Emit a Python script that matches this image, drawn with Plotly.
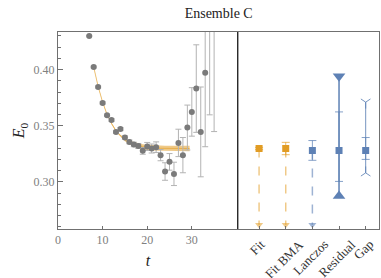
import plotly.graph_objects as go

# ---------------- data ----------------
t_vals = [7, 8, 9, 10, 11, 12, 13, 14, 15, 16, 17, 18, 19, 20, 21, 22, 23, 24, 25, 26,
          27, 28, 29, 30, 31, 32, 33, 34, 35]
e_vals = [0.4299, 0.4023, 0.3845, 0.3703, 0.3593, 0.3551, 0.3445, 0.3470, 0.3395, 0.3356,
          0.3333, 0.3320, 0.3276, 0.3315, 0.3297, 0.3309, 0.3238, 0.3092, 0.3178, 0.3071,
          0.3347, 0.3238, 0.3484, 0.3623, 0.3831, 0.3445, 0.3973, 0.4500, 0.4600]
e_errs = [0.0006, 0.0008, 0.0009, 0.0010, 0.0010, 0.0012, 0.0013, 0.0014, 0.0015, 0.0017,
          0.0020, 0.0022, 0.0030, 0.0036, 0.0040, 0.0047, 0.0050, 0.0078, 0.0074, 0.0104,
          0.0122, 0.0157, 0.0200, 0.0216, 0.0390, 0.0400, 0.0660, 0.0903, 0.1152]

fit_t = [8, 9, 10, 11, 12, 13, 14, 15, 16, 17, 18, 19, 20, 21, 22, 23, 24, 25, 26, 27, 28, 29, 29.5]
fit_center = [0.4023, 0.3850, 0.3710, 0.3600, 0.3520, 0.3455, 0.3410, 0.3375, 0.3350, 0.3335,
              0.3322, 0.3313, 0.3307, 0.3303, 0.3300, 0.3299, 0.3298, 0.3297, 0.3297, 0.3297,
              0.3297, 0.3297, 0.3297]
fit_err = [0.0003, 0.0003, 0.0004, 0.0005, 0.0006, 0.0008, 0.0010, 0.0013, 0.0016, 0.0019,
           0.0021, 0.0023, 0.0024, 0.0024, 0.0024, 0.0024, 0.0024, 0.0024, 0.0024, 0.0024,
           0.0024, 0.0024, 0.0024]

methods = ["Fit", "Fit BMA", "Lanczos", "Residual", "Gap"]
method_vals = [0.3297, 0.3297, 0.3280, 0.3280, 0.3280]
method_err_plus = [0.0010, 0.0055, 0.0088, 0.0343, 0.0115]
method_err_minus = [0.0010, 0.0055, 0.0088, 0.0276, 0.0080]
lower_bound = [0.2617, 0.2617, 0.2617]          # Fit, Fit BMA, Lanczos (arrow to bottom)
residual_bounds = [0.2873, 0.3940]
gap_bounds = [0.3080, 0.3710]

ORANGE = "#E19C24"
BLUE = "#5E81B5"
GRAY_PT = "#7a7a7a"
GRAY_ERR = "#b3b3b3"
FRAME = "#707070"
FONT = "Liberation Serif"

fig = go.Figure()

# fit band
fig.add_trace(go.Scatter(
    x=fit_t + fit_t[::-1],
    y=[c + e for c, e in zip(fit_center, fit_err)] +
      [c - e for c, e in zip(fit_center[::-1], fit_err[::-1])],
    fill="toself", fillcolor="rgba(225,156,36,0.55)", line=dict(width=0),
    mode="lines", hoverinfo="skip", showlegend=False, xaxis="x", yaxis="y"))
fig.add_trace(go.Scatter(
    x=fit_t, y=fit_center, mode="lines",
    line=dict(color="rgba(225,156,36,0.6)", width=1),
    showlegend=False, xaxis="x", yaxis="y"))

# data points
fig.add_trace(go.Scatter(
    x=t_vals, y=e_vals, mode="markers",
    marker=dict(color=GRAY_PT, size=6),
    error_y=dict(type="data", array=e_errs, color=GRAY_ERR, thickness=1, width=3),
    showlegend=False, xaxis="x", yaxis="y"))

# ---------------- right panel ----------------
cols = [ORANGE, ORANGE, BLUE, BLUE, BLUE]
light = ["rgba(225,156,36,0.55)", "rgba(225,156,36,0.55)", "rgba(94,129,181,0.6)"]
GAPC = "rgba(94,129,181,0.85)"

for i in range(3):
    fig.add_trace(go.Scatter(
        x=[methods[i], methods[i]], y=[method_vals[i], lower_bound[i]], mode="lines",
        line=dict(color=light[i], width=1.5, dash="dash"),
        showlegend=False, xaxis="x2", yaxis="y2"))
    fig.add_trace(go.Scatter(
        x=[methods[i]], y=[lower_bound[i]], mode="markers",
        marker=dict(symbol="triangle-down", color=light[i], size=7),
        showlegend=False, xaxis="x2", yaxis="y2"))

fig.add_trace(go.Scatter(
    x=[methods[3], methods[3]], y=residual_bounds, mode="lines",
    line=dict(color=BLUE, width=1.5), showlegend=False, xaxis="x2", yaxis="y2"))
fig.add_trace(go.Scatter(
    x=[methods[3], methods[3]], y=residual_bounds, mode="markers",
    marker=dict(symbol=["triangle-up", "triangle-down"], color=BLUE, size=11),
    showlegend=False, xaxis="x2", yaxis="y2"))

fig.add_trace(go.Scatter(
    x=[methods[4], methods[4]], y=gap_bounds, mode="lines",
    line=dict(color=GAPC, width=1), showlegend=False, xaxis="x2", yaxis="y2"))
fig.add_trace(go.Scatter(
    x=[methods[4], methods[4]], y=gap_bounds, mode="markers",
    marker=dict(symbol=["y-up-open", "y-down-open"], size=8, color=GAPC,
                line=dict(color=GAPC, width=1)),
    showlegend=False, xaxis="x2", yaxis="y2"))

for i in range(5):
    fig.add_trace(go.Scatter(
        x=[methods[i]], y=[method_vals[i]], mode="markers",
        marker=dict(symbol="square", color=cols[i], size=7),
        error_y=dict(type="data", symmetric=False, array=[method_err_plus[i]],
                     arrayminus=[method_err_minus[i]],
                     color=("rgba(225,156,36,0.7)" if i < 2 else "rgba(94,129,181,0.75)"),
                     thickness=1, width=4),
        showlegend=False, xaxis="x2", yaxis="y2"))

# rotated category labels, centred under their ticks
for m in methods:
    fig.add_annotation(x=m, xref="x2", y=0, yref="paper", yshift=-5,
                       text=m, textangle=-45, showarrow=False,
                       xanchor="center", yanchor="top", xshift=-2,
                       font=dict(family=FONT, size=13, color="#333333"))

split = 0.56
YR = [0.258, 0.4335]
fig.update_layout(
    width=381, height=278,
    margin=dict(l=58, r=2, t=32, b=49, autoexpand=False),
    paper_bgcolor="white", plot_bgcolor="white",
    font=dict(family=FONT, size=12, color="#555555"),
    title=dict(text="Ensemble C", x=0.574, xanchor="center", y=0.953, yanchor="middle",
               font=dict(family=FONT, size=14, color="#222222")),
    xaxis=dict(domain=[0, split], range=[0, 40.3], tickvals=[0, 10, 20, 30],
               ticks="inside", ticklen=3, tickcolor=FRAME, showgrid=False, zeroline=False,
               showline=True, linecolor=FRAME, linewidth=1, mirror=True, automargin=False,
               title=dict(text="<i>t</i>", font=dict(family=FONT, size=16, color="#222222"),
                          standoff=8),
               tickfont=dict(family=FONT, size=12, color="#808080")),
    xaxis2=dict(domain=[split, 1], range=[-0.8, 4.5], type="category",
                categoryorder="array", categoryarray=methods, showticklabels=False,
                ticks="inside", ticklen=3, tickcolor=FRAME, showgrid=False, zeroline=False,
                showline=True, linecolor=FRAME, linewidth=1, mirror=True, automargin=False,
                anchor="y2"),
    yaxis=dict(range=YR, tickvals=[0.30, 0.35, 0.40], tickformat=".2f",
               ticks="inside", ticklen=5, tickcolor=FRAME, showgrid=False, zeroline=False,
               showline=True, linecolor=FRAME, linewidth=1, mirror=False, anchor="x",
               automargin=False,
               minor=dict(dtick=0.01, tick0=0.0, ticks="inside", ticklen=3, tickcolor=FRAME),
               title=dict(text="<i>E</i><sub>0</sub>",
                          font=dict(family=FONT, size=16, color="#222222"), standoff=4),
               tickfont=dict(family=FONT, size=12, color="#808080")),
    yaxis2=dict(range=YR, anchor="x2", automargin=False,
                showticklabels=False, ticks="", showgrid=False, zeroline=False,
                showline=True, linecolor=FRAME, linewidth=1, mirror=True),
    shapes=[dict(type="line", xref="paper", yref="paper", x0=split, x1=split, y0=0, y1=1,
                 line=dict(color="#222222", width=1.3))],
)
fig.write_html("out.html", config={"displayModeBar": False},
               post_script="document.body.style.margin='0';")
